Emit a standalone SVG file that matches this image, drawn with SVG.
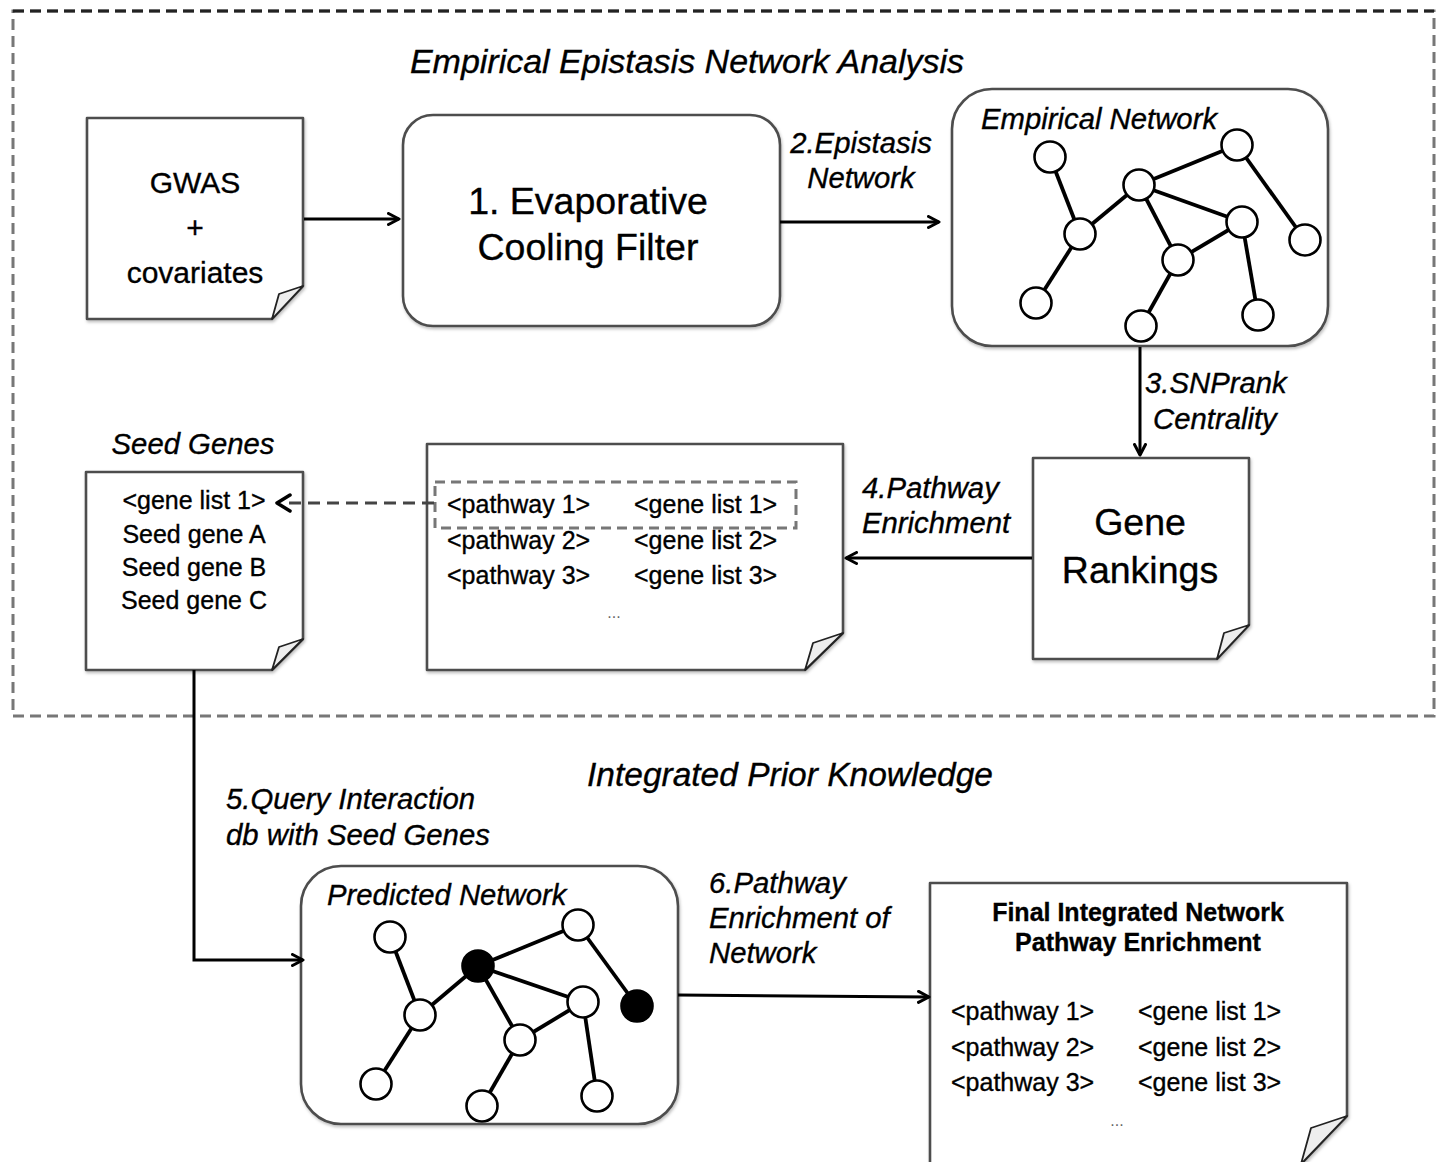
<svg xmlns="http://www.w3.org/2000/svg" width="1443" height="1162" viewBox="0 0 1443 1162">
  <defs>
    <style>
      text { font-family: "Liberation Sans", Arial, sans-serif; fill: #000; stroke: #000; stroke-width: 0.35; }
      .title { font-size: 34px; font-style: italic; text-anchor: middle; }
      .lab { font-size: 29.3px; font-style: italic; }
      .big { font-size: 37.5px; text-anchor: middle; }
      .mid { font-size: 30px; text-anchor: middle; }
      .row { font-size: 25px; }
      .rowc { font-size: 25px; text-anchor: middle; }
      .bold { font-size: 25px; font-weight: bold; text-anchor: middle; }
      .dots { font-size: 16px; fill: #666; stroke: none; text-anchor: middle; }
      .box { fill: #fff; stroke: #4d4d4d; stroke-width: 2.6; stroke-linejoin: round; }
      .fold { fill: #eee; stroke: #222; stroke-width: 1.8; stroke-linejoin: round; }
      .edge { stroke: #000; stroke-width: 3.8; fill: none; }
      .nd { fill: #fff; stroke: #000; stroke-width: 2.6; }
      .nd.on { fill: #000; }
      .conn { stroke: #000; stroke-width: 3; fill: none; }
    </style>
    <marker id="arr" viewBox="0 0 14 14" refX="12" refY="7" markerWidth="14" markerHeight="14" markerUnits="userSpaceOnUse" orient="auto">
      <path d="M1.5,1.5 L12,7 L1.5,12.5" fill="none" stroke="#000" stroke-width="3" stroke-linecap="round" stroke-linejoin="round"/>
    </marker>
    <filter id="sh" x="-5%" y="-5%" width="110%" height="110%">
      <feDropShadow dx="1" dy="2" stdDeviation="1.5" flood-color="#000" flood-opacity="0.25"/>
    </filter>
  </defs>

  <rect width="1443" height="1162" fill="#fff"/>

  <!-- outer dashed frame around the empirical analysis stage -->
  <rect x="13" y="11" width="1421" height="705" fill="none" stroke="#777" stroke-width="3" stroke-dasharray="11 6"/>
  <line x1="13" y1="11" x2="1434" y2="11" stroke="#222" stroke-width="3" stroke-dasharray="11 6"/>

  <text class="title" x="687" y="73">Empirical Epistasis Network Analysis</text>
  <text class="title" x="790" y="786" style="font-size:33.5px">Integrated Prior Knowledge</text>

  <!-- GWAS input document -->
  <g id="gwas">
    <path class="box" filter="url(#sh)" d="M87,118 H303 V286 L272,319 H87 Z"/>
    <path class="fold" d="M303,286 L279,294 L272,319 Z"/>
    <text class="mid" x="195" y="193">GWAS</text>
    <text class="mid" x="195" y="238">+</text>
    <text class="mid" x="195" y="283">covariates</text>
  </g>

  <!-- step 1 -->
  <g id="ec-filter">
    <rect class="box" filter="url(#sh)" x="403" y="115" width="377" height="211" rx="30"/>
    <text class="big" x="588" y="214">1. Evaporative</text>
    <text class="big" x="588" y="260">Cooling Filter</text>
  </g>

  <!-- empirical network -->
  <g id="empirical-network">
    <rect class="box" filter="url(#sh)" x="952" y="89" width="376" height="257" rx="40"/>
    <text class="lab" x="981" y="129">Empirical Network</text>
    <g class="edge">
      <line x1="1050" y1="157" x2="1080" y2="234"/>
      <line x1="1080" y1="234" x2="1139" y2="185"/>
      <line x1="1080" y1="234" x2="1036" y2="303"/>
      <line x1="1139" y1="185" x2="1237" y2="145"/>
      <line x1="1139" y1="185" x2="1242" y2="222"/>
      <line x1="1139" y1="185" x2="1178" y2="260"/>
      <line x1="1178" y1="260" x2="1242" y2="222"/>
      <line x1="1178" y1="260" x2="1141" y2="326"/>
      <line x1="1242" y1="222" x2="1258" y2="315"/>
      <line x1="1237" y1="145" x2="1305" y2="240"/>
    </g>
    <circle class="nd" cx="1050" cy="157" r="15.5"/>
    <circle class="nd" cx="1237" cy="145" r="15.5"/>
    <circle class="nd" cx="1139" cy="185" r="15.5"/>
    <circle class="nd" cx="1080" cy="234" r="15.5"/>
    <circle class="nd" cx="1242" cy="222" r="15.5"/>
    <circle class="nd" cx="1305" cy="240" r="15.5"/>
    <circle class="nd" cx="1178" cy="260" r="15.5"/>
    <circle class="nd" cx="1036" cy="303" r="15.5"/>
    <circle class="nd" cx="1141" cy="326" r="15.5"/>
    <circle class="nd" cx="1258" cy="315" r="15.5"/>
  </g>

  <!-- gene rankings -->
  <g id="gene-rankings">
    <path class="box" filter="url(#sh)" d="M1033,458 H1249 V625 L1217,659 H1033 Z"/>
    <path class="fold" d="M1249,625 L1224,633 L1217,659 Z"/>
    <text class="big" x="1140" y="535">Gene</text>
    <text class="big" x="1140" y="583">Rankings</text>
  </g>

  <!-- pathway enrichment table -->
  <g id="pathway-table">
    <path class="box" filter="url(#sh)" d="M427,444 H843 V633 L805,670 H427 Z"/>
    <path class="fold" d="M843,633 L813,643 L805,670 Z"/>
    <rect x="435" y="482" width="361" height="46" fill="none" stroke="#777" stroke-width="3" stroke-dasharray="10 6"/>
    <text class="row" x="447" y="513">&lt;pathway 1&gt;</text>
    <text class="row" x="634" y="513">&lt;gene list 1&gt;</text>
    <text class="row" x="447" y="549">&lt;pathway 2&gt;</text>
    <text class="row" x="634" y="549">&lt;gene list 2&gt;</text>
    <text class="row" x="447" y="584">&lt;pathway 3&gt;</text>
    <text class="row" x="634" y="584">&lt;gene list 3&gt;</text>
    <text class="dots" x="614" y="618">...</text>
  </g>

  <!-- seed genes -->
  <g id="seed-genes">
    <text class="lab" x="193" y="454" text-anchor="middle">Seed Genes</text>
    <path class="box" filter="url(#sh)" d="M86,472 H303 V639 L272,670 H86 Z"/>
    <path class="fold" d="M303,639 L279,647 L272,670 Z"/>
    <text class="rowc" x="194" y="509">&lt;gene list 1&gt;</text>
    <text class="rowc" x="194" y="543">Seed gene A</text>
    <text class="rowc" x="194" y="576">Seed gene B</text>
    <text class="rowc" x="194" y="609">Seed gene C</text>
  </g>

  <!-- predicted network -->
  <g id="predicted-network">
    <rect class="box" filter="url(#sh)" x="301" y="866" width="377" height="258" rx="40"/>
    <text class="lab" x="327" y="905">Predicted Network</text>
    <g class="edge">
      <line x1="390" y1="937" x2="420" y2="1015"/>
      <line x1="420" y1="1015" x2="478" y2="966"/>
      <line x1="420" y1="1015" x2="376" y2="1084"/>
      <line x1="478" y1="966" x2="578" y2="925"/>
      <line x1="478" y1="966" x2="583" y2="1002"/>
      <line x1="478" y1="966" x2="520" y2="1040"/>
      <line x1="520" y1="1040" x2="583" y2="1002"/>
      <line x1="520" y1="1040" x2="482" y2="1106"/>
      <line x1="583" y1="1002" x2="597" y2="1096"/>
      <line x1="578" y1="925" x2="637" y2="1006"/>
    </g>
    <circle class="nd" cx="390" cy="937" r="15.5"/>
    <circle class="nd" cx="578" cy="925" r="15.5"/>
    <circle class="nd on" cx="478" cy="966" r="15.5"/>
    <circle class="nd" cx="420" cy="1015" r="15.5"/>
    <circle class="nd" cx="583" cy="1002" r="15.5"/>
    <circle class="nd on" cx="637" cy="1006" r="15.5"/>
    <circle class="nd" cx="520" cy="1040" r="15.5"/>
    <circle class="nd" cx="376" cy="1084" r="15.5"/>
    <circle class="nd" cx="482" cy="1106" r="15.5"/>
    <circle class="nd" cx="597" cy="1096" r="15.5"/>
  </g>

  <!-- final integrated enrichment table -->
  <g id="final-table">
    <path class="box" filter="url(#sh)" d="M930,883 H1347 V1116 L1301,1164 H930 Z"/>
    <path class="fold" d="M1347,1116 L1311,1128 L1301,1164 Z"/>
    <text class="bold" x="1138" y="921">Final Integrated Network</text>
    <text class="bold" x="1138" y="951">Pathway Enrichment</text>
    <text class="row" x="951" y="1020">&lt;pathway 1&gt;</text>
    <text class="row" x="1138" y="1020">&lt;gene list 1&gt;</text>
    <text class="row" x="951" y="1056">&lt;pathway 2&gt;</text>
    <text class="row" x="1138" y="1056">&lt;gene list 2&gt;</text>
    <text class="row" x="951" y="1091">&lt;pathway 3&gt;</text>
    <text class="row" x="1138" y="1091">&lt;gene list 3&gt;</text>
    <text class="dots" x="1117" y="1126">...</text>
  </g>

  <!-- connectors, drawn last so arrowheads sit on top of the boxes -->
  <g id="connectors">
    <line class="conn" x1="304" y1="219" x2="399" y2="219" marker-end="url(#arr)"/>
    <line class="conn" x1="780" y1="222" x2="939" y2="222" marker-end="url(#arr)"/>
    <line class="conn" x1="1140" y1="347" x2="1140" y2="455" marker-end="url(#arr)"/>
    <line class="conn" x1="1032" y1="558" x2="846" y2="558" marker-end="url(#arr)"/>
    <line x1="434" y1="503" x2="284" y2="503" stroke="#444" stroke-width="3" stroke-dasharray="12 7"/>
    <path d="M290,495 L277,503 L290,511" fill="none" stroke="#000" stroke-width="3.5" stroke-linecap="round" stroke-linejoin="round"/>
    <polyline class="conn" points="194,670 194,960 303,960" marker-end="url(#arr)"/>
    <line class="conn" x1="678" y1="995" x2="929" y2="997" marker-end="url(#arr)"/>

    <text class="lab" x="861" y="153" text-anchor="middle">2.Epistasis</text>
    <text class="lab" x="861" y="188" text-anchor="middle">Network</text>
    <text class="lab" x="1145" y="393">3.SNPrank</text>
    <text class="lab" x="1153" y="429">Centrality</text>
    <text class="lab" x="862" y="498">4.Pathway</text>
    <text class="lab" x="862" y="533">Enrichment</text>
    <text class="lab" x="226" y="809">5.Query Interaction</text>
    <text class="lab" x="226" y="845">db with Seed Genes</text>
    <text class="lab" x="709" y="893">6.Pathway</text>
    <text class="lab" x="709" y="928">Enrichment of</text>
    <text class="lab" x="709" y="963">Network</text>
  </g>
</svg>
